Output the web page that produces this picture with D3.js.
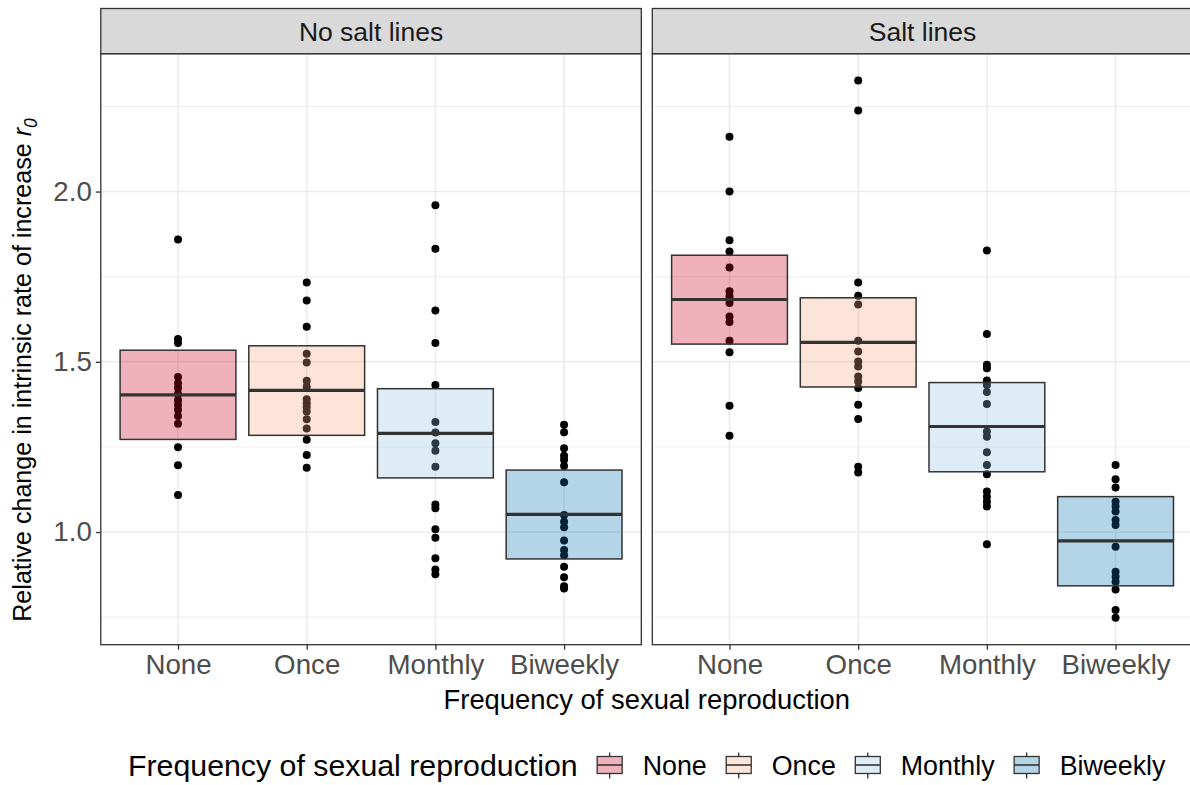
<!DOCTYPE html>
<html>
<head>
<meta charset="utf-8">
<script src="https://cdn.jsdelivr.net/npm/d3@7"></script>
<style>
  body { margin: 0; background: #fff; }
  text { font-family: "Liberation Sans", Arial, Helvetica, sans-serif; }
</style>
</head>
<body>
<svg id="chart" width="1190" height="785"></svg>
<script>
// categories + facets
const categories = ["None", "Once", "Monthly", "Biweekly"];
const facets = ["No salt lines", "Salt lines"];
const colors = ["#CA0020", "#F4A582", "#92C5DE", "#0571B0"];
const yTicks = [1.0, 1.5, 2.0];
const yMinor = [0.75, 1.25, 1.75, 2.25];

// points
const noSaltNone = [1.859, 1.567, 1.555, 1.455, 1.437, 1.423, 1.406, 1.388, 1.374, 1.359, 1.341, 1.318, 1.249, 1.196, 1.109];
const noSaltOnce = [1.733, 1.680, 1.603, 1.524, 1.498, 1.444, 1.427, 1.390, 1.378, 1.367, 1.354, 1.331, 1.304, 1.271, 1.226, 1.189];
const noSaltMonthly = [1.960, 1.832, 1.651, 1.555, 1.432, 1.323, 1.292, 1.261, 1.239, 1.192, 1.081, 1.070, 1.008, 0.983, 0.923, 0.890, 0.876];
const noSaltBiweekly = [1.315, 1.293, 1.246, 1.224, 1.212, 1.194, 1.146, 1.050, 1.030, 1.014, 0.975, 0.947, 0.932, 0.898, 0.867, 0.841, 0.834];
const saltNone = [2.161, 2.000, 1.857, 1.824, 1.777, 1.707, 1.692, 1.673, 1.633, 1.617, 1.562, 1.528, 1.371, 1.283];
const saltOnce = [2.326, 2.238, 1.733, 1.694, 1.668, 1.562, 1.530, 1.501, 1.486, 1.457, 1.442, 1.423, 1.374, 1.332, 1.192, 1.175];
const saltMonthly = [1.827, 1.582, 1.491, 1.481, 1.445, 1.432, 1.411, 1.376, 1.295, 1.280, 1.234, 1.197, 1.170, 1.119, 1.104, 1.089, 1.075, 0.964];
const saltBiweekly = [1.197, 1.155, 1.131, 1.089, 1.076, 1.060, 1.035, 1.021, 0.957, 0.883, 0.869, 0.854, 0.831, 0.771, 0.748];

// crossbars: lower, middle, upper
const noSaltBoxes = [[1.272, 1.403, 1.534], [1.284, 1.416, 1.547], [1.159, 1.290, 1.421], [0.921, 1.052, 1.182]];
const saltBoxes = [[1.552, 1.683, 1.813], [1.426, 1.557, 1.688], [1.177, 1.310, 1.439], [0.842, 0.974, 1.104]];

const pointSets = [[noSaltNone, noSaltOnce, noSaltMonthly, noSaltBiweekly],
                   [saltNone, saltOnce, saltMonthly, saltBiweekly]];
const boxSets = [noSaltBoxes, saltBoxes];

const svg = d3.select("#chart");
const font = "'Liberation Sans', Arial, Helvetica, sans-serif";

const stripTop = 8.5, panelTop = 53.7, panelBottom = 644.7;
const panelX = [[100.8, 641.3], [652.3, 1192.8]];

// y range with ggplot's 5% expansion
const allVals = pointSets.flat(2);
const ext = d3.extent(allVals);
const pad = (ext[1] - ext[0]) * 0.05;
const y = d3.scaleLinear().domain([ext[0] - pad, ext[1] + pad]).range([panelBottom, panelTop]);

facets.forEach((facet, fi) => {
  const [x0, x1] = panelX[fi];
  const x = d3.scalePoint().domain(categories).range([x0, x1]).padding(0.6);
  const bw = x.step() * 0.9;
  const g = svg.append("g");

  // grid
  g.selectAll(".minor").data(yMinor).enter().append("line")
    .attr("x1", x0).attr("x2", x1)
    .attr("y1", d => y(d)).attr("y2", d => y(d))
    .attr("stroke", "#EBEBEB").attr("stroke-width", 0.8);
  g.selectAll(".major").data(yTicks).enter().append("line")
    .attr("x1", x0).attr("x2", x1)
    .attr("y1", d => y(d)).attr("y2", d => y(d))
    .attr("stroke", "#EBEBEB").attr("stroke-width", 1.5);
  g.selectAll(".vgrid").data(categories).enter().append("line")
    .attr("x1", d => x(d)).attr("x2", d => x(d))
    .attr("y1", panelTop).attr("y2", panelBottom)
    .attr("stroke", "#EBEBEB").attr("stroke-width", 1.5);

  // points first, crossbars drawn over them with alpha
  categories.forEach((c, ci) => {
    g.selectAll(null).data(pointSets[fi][ci]).enter().append("circle")
      .attr("cx", x(c)).attr("cy", d => y(d)).attr("r", 4)
      .attr("fill", "#000");
  });

  categories.forEach((c, ci) => {
    const b = boxSets[fi][ci];
    g.append("rect")
      .attr("x", x(c) - bw / 2).attr("width", bw)
      .attr("y", y(b[2])).attr("height", y(b[0]) - y(b[2]))
      .attr("fill", colors[ci]).attr("fill-opacity", 0.3)
      .attr("stroke", "#333333").attr("stroke-width", 1.5);
    g.append("line")
      .attr("x1", x(c) - bw / 2).attr("x2", x(c) + bw / 2)
      .attr("y1", y(b[1])).attr("y2", y(b[1]))
      .attr("stroke", "#333333").attr("stroke-width", 3.2);
  });

  // panel border
  g.append("rect").attr("x", x0).attr("y", panelTop)
    .attr("width", x1 - x0).attr("height", panelBottom - panelTop)
    .attr("fill", "none").attr("stroke", "#333333").attr("stroke-width", 1.3);

  // strip
  g.append("rect").attr("x", x0).attr("y", stripTop)
    .attr("width", x1 - x0).attr("height", panelTop - stripTop)
    .attr("fill", "#D9D9D9").attr("stroke", "#333333").attr("stroke-width", 1.3);
  g.append("text").attr("x", (x0 + x1) / 2).attr("y", (stripTop + panelTop) / 2 + 9.5)
    .attr("text-anchor", "middle").attr("font-size", 26.5).attr("fill", "#1A1A1A")
    .text(facet);

  // x axis
  const xa = g.append("g").attr("transform", `translate(0,${panelBottom})`)
    .call(d3.axisBottom(x).tickSize(5).tickPadding(5));
  xa.select(".domain").remove();
  xa.selectAll(".tick line").attr("stroke", "#333333").attr("stroke-width", 1.3);
  xa.selectAll(".tick text").attr("font-size", 27.7).attr("fill", "#4D4D4D")
    .attr("font-family", font).attr("dy", "0.71em");

  if (fi === 0) {
    const ya = g.append("g").attr("transform", `translate(${x0},0)`)
      .call(d3.axisLeft(y).tickValues(yTicks).tickFormat(d3.format(".1f")).tickSize(5).tickPadding(4));
    ya.select(".domain").remove();
    ya.selectAll(".tick line").attr("stroke", "#333333").attr("stroke-width", 1.3);
    ya.selectAll(".tick text").attr("font-size", 27.7).attr("fill", "#4D4D4D")
      .attr("font-family", font);
  }
});

// axis titles
const midX = (panelX[0][0] + panelX[1][1]) / 2;
svg.append("text").attr("x", midX).attr("y", 709)
  .attr("text-anchor", "middle").attr("font-size", 27.4).attr("fill", "#000")
  .text("Frequency of sexual reproduction");

const yt = svg.append("text")
  .attr("transform", "translate(31,370) rotate(-90)")
  .attr("text-anchor", "middle").attr("font-size", 25.1).attr("fill", "#000");
yt.append("tspan").text("Relative change in intrinsic rate of increase ");
yt.append("tspan").attr("font-style", "italic").text("r");
yt.append("tspan").attr("font-style", "italic").attr("font-size", 17.5).attr("dy", 6).text("0");

// legend
const legY = 765;
const leg = svg.append("g");
const legTitle = leg.append("text").attr("x", 128).attr("y", legY + 11)
  .attr("font-size", 30.3).attr("fill", "#000")
  .text("Frequency of sexual reproduction");
let lx = 128 + legTitle.node().getComputedTextLength() + 19;
categories.forEach((c, ci) => {
  const k = leg.append("g").attr("transform", `translate(${lx},${legY})`);
  k.append("line").attr("x1", 13).attr("x2", 13).attr("y1", -12.5).attr("y2", 13.5)
    .attr("stroke", "#333333").attr("stroke-width", 1.3);
  k.append("rect").attr("x", 0.5).attr("y", -8.5).attr("width", 25).attr("height", 17)
    .attr("fill", "#fff");
  k.append("rect").attr("x", 0.5).attr("y", -8.5).attr("width", 25).attr("height", 17)
    .attr("fill", colors[ci]).attr("fill-opacity", 0.3)
    .attr("stroke", "#333333").attr("stroke-width", 1.3);
  k.append("line").attr("x1", 0.5).attr("x2", 25.5).attr("y1", 0).attr("y2", 0)
    .attr("stroke", "#333333").attr("stroke-width", 1.6);
  const t = leg.append("text").attr("x", lx + 46).attr("y", legY + 10)
    .attr("font-size", 26.8).attr("fill", "#000").text(c);
  lx += 46 + t.node().getComputedTextLength() + 19;
});
</script>
</body>
</html>
